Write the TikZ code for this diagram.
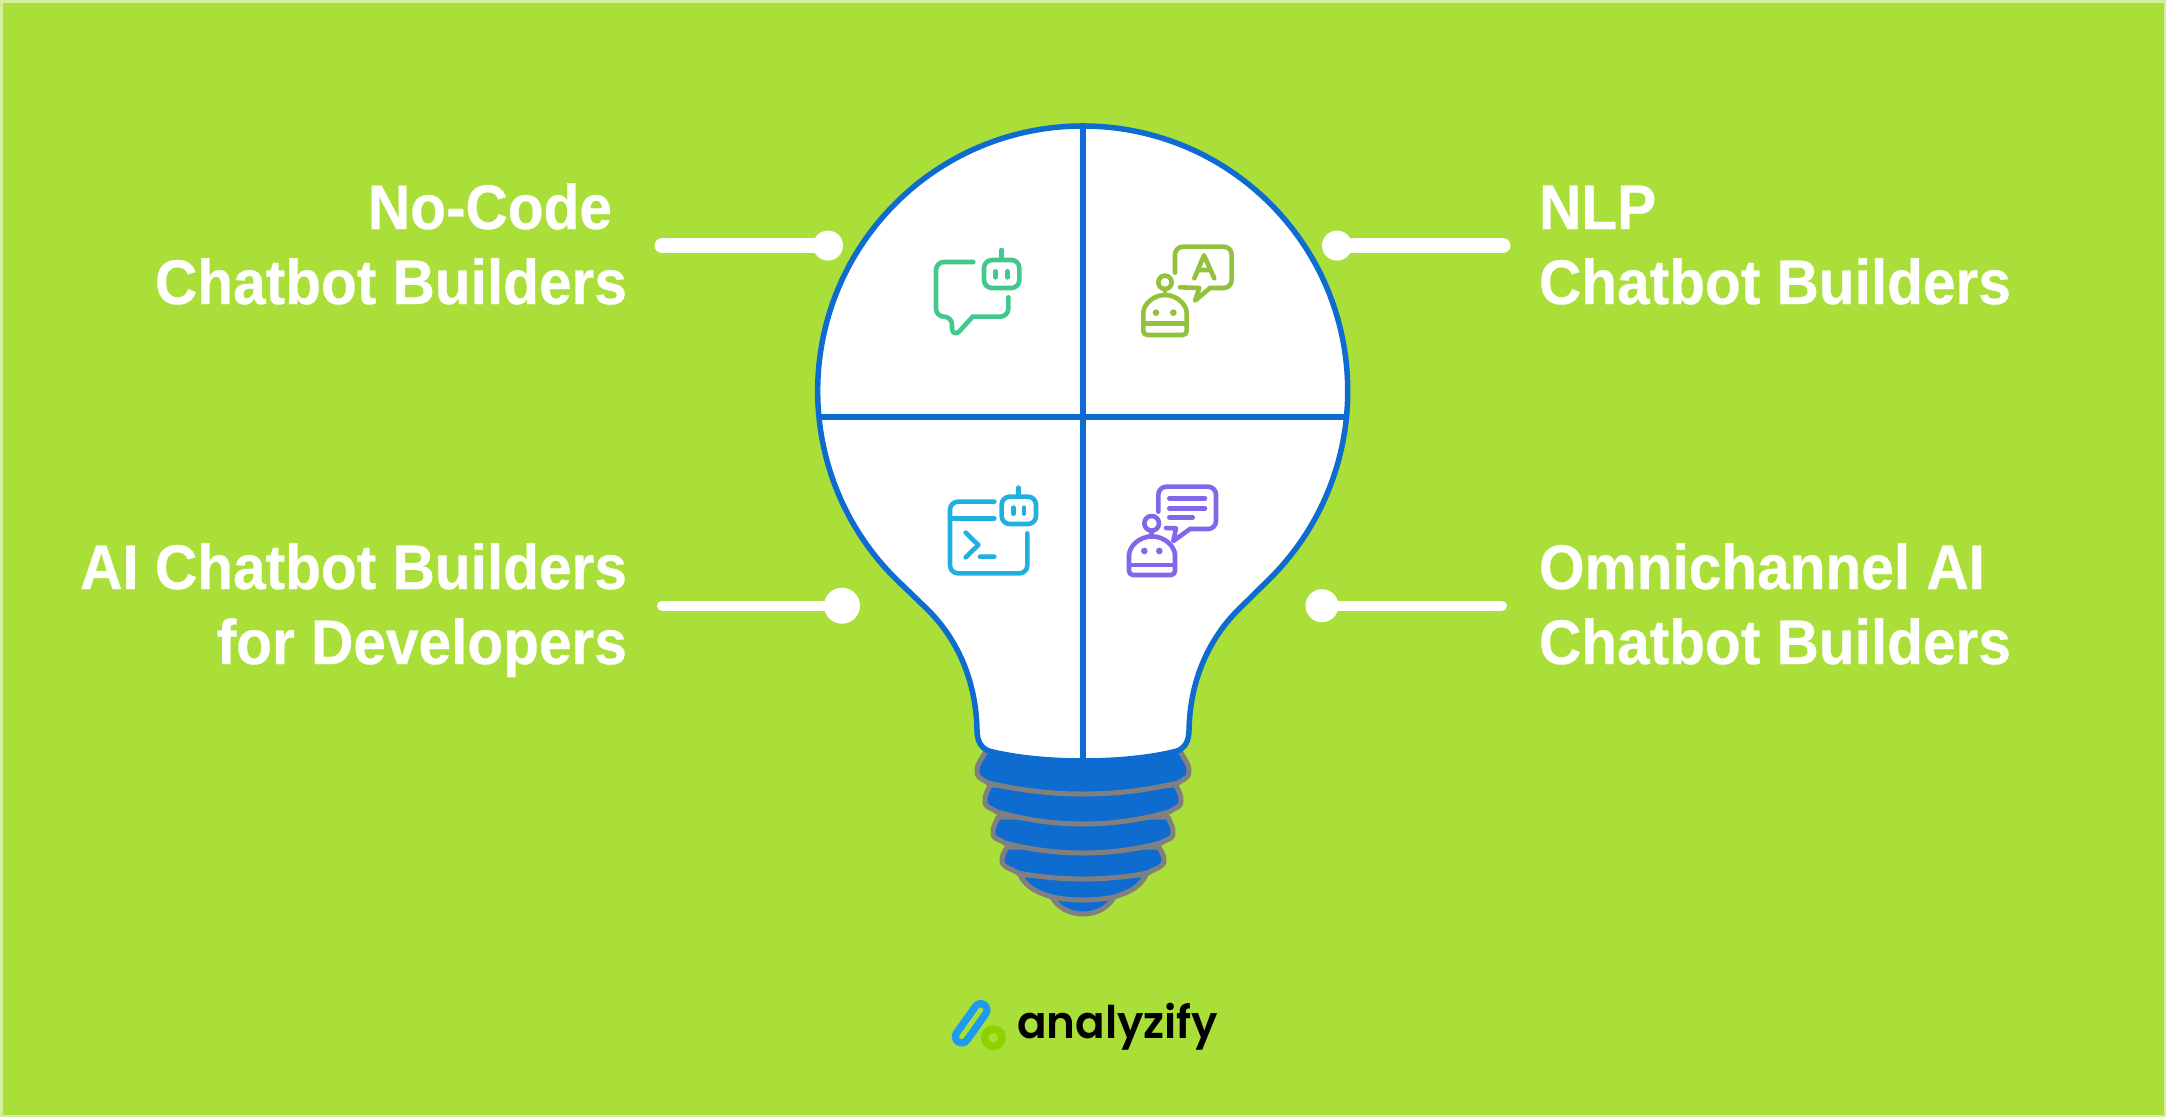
\documentclass[tikz,border=0pt]{standalone}
\usepackage{fontspec}
\setmainfont{Liberation Sans}
\newfontfamily\labfont[FakeStretch=0.93,BoldFeatures={FakeStretch=0.93,FakeBold=0.5}]{Liberation Sans}
\newfontfamily\logofont[FakeStretch=0.97]{Poppins SemiBold}
\definecolor{bg}{HTML}{A9DF38}
\definecolor{edge}{HTML}{D4EE9C}
\definecolor{bulbblue}{HTML}{0E6BD0}
\definecolor{basegray}{HTML}{808080}
\definecolor{icgreen}{HTML}{40C98A}
\definecolor{icolive}{HTML}{93C13B}
\definecolor{iccyan}{HTML}{20B0E0}
\definecolor{icpurple}{HTML}{8268E8}
\definecolor{logoblue}{HTML}{1E9BF0}
\definecolor{logogreen}{HTML}{8FD000}
\tikzset{
  labeltext/.style={text=white,inner sep=0pt,outer sep=0pt,font=\labfont\fontsize{63}{75}\selectfont\bfseries},
  dot/.style={circle,fill=white,draw=none,inner sep=0pt,outer sep=0pt,minimum size=#1},
  lead/.style={draw=white,line cap=round,line width=#1},
  tierstyle/.style={fill=bulbblue,draw=basegray,line width=5pt,line join=round},
  bulbline/.style={draw=bulbblue,line width=5.5pt},
  icon/.style={draw=#1,line width=4.6pt,line cap=round,line join=round,rounded corners=8pt},
  iconsharp/.style={draw=#1,line width=4.6pt,line cap=round,line join=round},
  eye/.style={fill=#1,draw=none}
}
\newcommand{\tierpath}[7]{%
  \draw[tierstyle] (1083-#1,#2) .. controls (1083-#1-0.5*#3+0.5*#1,#2+0.45*#4-0.45*#2) and (1083-#3,#4-6) .. (1083-#3,#4)
   .. controls (1083-#3,#4+8) and (1083-#5-9,#6-6) .. (1083-#5,#6)
   .. controls (1083-0.62*#5,#6+0.75*#7-0.75*#6) and (1083-0.3*#5,#7) .. (1083,#7)
   .. controls (1083+0.3*#5,#7) and (1083+0.62*#5,#6+0.75*#7-0.75*#6) .. (1083+#5,#6)
   .. controls (1083+#5+9,#6-6) and (1083+#3,#4+8) .. (1083+#3,#4)
   .. controls (1083+#3,#4-6) and (1083+#1+0.5*#3-0.5*#1,#2+0.45*#4-0.45*#2) .. (1083+#1,#2) -- cycle;}
\begin{document}
\begin{tikzpicture}[x=1pt,y=-1pt]
\useasboundingbox (0,0) rectangle (2166,1117);
\fill[edge] (0,0) rectangle (2166,1117);
\fill[bg] (2.5,2.5) rectangle (2163.5,1114.5);

% base
\draw[tierstyle] (1052,897) .. controls (1058,908) and (1070,914) .. (1083,914) .. controls (1096,914) and (1108,908) .. (1114,897) -- cycle;
\draw[tierstyle] (1020,875) .. controls (1027,889) and (1040,893) .. (1052,897) .. controls (1062,899) and (1072,900) .. (1083,900) .. controls (1094,900) and (1104,899) .. (1114,897) .. controls (1126,893) and (1139,889) .. (1146,875) -- cycle;
\tierpath{76}{847}{81}{860}{65}{873}{879}
\tierpath{85}{817}{90}{832}{78}{843}{853}
\tierpath{93}{785}{98}{800}{86}{812}{824}
\tierpath{97}{751}{106}{770}{95}{783}{794}

% bulb
\path[fill=white,bulbline,line join=round]
  (895.3,578.4) .. controls (791.8,474.9) and (791.8,307.1) .. (895.3,203.6)
  .. controls (998.8,100.1) and (1166.6,100.1) .. (1270.1,203.6)
  .. controls (1373.6,307.1) and (1373.6,474.9) .. (1270.1,578.4)
  -- (1240,608) .. controls (1209,638) and (1190,680) .. (1189,730)
  .. controls (1189,741) and (1185,748) .. (1177,751)
  .. controls (1150,758) and (1115,761) .. (1083,761)
  .. controls (1051,761) and (1016,758) .. (989,751)
  .. controls (981,748) and (977,741) .. (977,730)
  .. controls (976,680) and (957,638) .. (926,608)
  -- cycle;
\coordinate (vtop) at (1083,126);
\coordinate (vbot) at (1083,761);
\coordinate (hl) at (819,417);
\coordinate (hr) at (1347,417);
\draw[bulbline] (vtop) -- (vbot);
\draw[bulbline] (hl) -- (hr);

% icon 1
\begin{scope}[shift={(880,220)},x=0.33333pt,y=-0.33333pt]
  \draw[icon=icgreen] (280,126) -- (168,126) -- (168,290) -- (216,290) -- (216,322);
  \draw[iconsharp=icgreen] (216,322) .. controls (216,342) and (228,344) .. (238,334) -- (278,290);
  \draw[icon=icgreen] (278,290) -- (385,290) -- (385,232);
  \draw[icon=icgreen] (312,120) rectangle (418,204);
  \draw[iconsharp=icgreen] (365,90) -- (365,120);
  \draw[iconsharp=icgreen] (346,154) -- (346,172) (382,154) -- (382,172);
\end{scope}
% icon 2
\begin{scope}[shift={(880,220)},x=0.33333pt,y=-0.33333pt]
  \draw[icon=icolive] (885,158) -- (885,80) -- (1055,80) -- (1055,204) -- (990,204);
  \draw[iconsharp=icolive] (990,204) -- (945,242) -- (958,204) -- (900,202);
  \draw[iconsharp=icolive] (943,175) -- (972,106) -- (1003,175) (955,150) -- (992,150);
  \draw[iconsharp=icolive] (855,187) circle[radius=20];
  \draw[iconsharp=icolive] (855,207) -- (855,225);
  \draw[iconsharp=icolive,rounded corners=4pt] (790,345) -- (790,290) arc[start angle=180,end angle=0,x radius=65,y radius=-65] -- (920,345) -- cycle;
  \draw[iconsharp=icolive] (790,310) -- (920,310);
  \fill[eye=icolive] (828,278) circle[radius=10] (880,278) circle[radius=10];
\end{scope}
% icon 3
\begin{scope}[shift={(900,460)},x=0.33333pt,y=-0.33333pt]
  \draw[icon=iccyan] (283,125) -- (150,125) -- (150,340) -- (382,340) -- (382,220);
  \draw[iconsharp=iccyan] (150,175) -- (283,175);
  \draw[iconsharp=iccyan] (197,218) -- (235,255) -- (197,292) (240,290) -- (283,290);
  \draw[icon=iccyan] (305,110) rectangle (408,192);
  \draw[iconsharp=iccyan] (355,83) -- (355,110);
  \draw[iconsharp=iccyan] (340,143) -- (340,161) (372,143) -- (372,161);
\end{scope}
% icon 4
\begin{scope}[shift={(900,460)},x=0.33333pt,y=-0.33333pt]
  \draw[icon=icpurple] (775,155) -- (775,80) -- (948,80) -- (948,207) -- (870,207);
  \draw[iconsharp=icpurple] (870,207) -- (820,243) -- (828,205) -- (798,204);
  \draw[iconsharp=icpurple] (808,115) -- (915,115) (808,145) -- (915,145) (808,172) -- (878,172);
  \draw[iconsharp=icpurple] (755,190) circle[radius=22];
  \draw[iconsharp=icpurple] (755,212) -- (755,230);
  \draw[iconsharp=icpurple,rounded corners=4pt] (687,345) -- (687,298) arc[start angle=180,end angle=0,x radius=69,y radius=-69] -- (825,345) -- cycle;
  \draw[iconsharp=icpurple] (687,315) -- (825,315);
  \fill[eye=icpurple] (733,273) circle[radius=10] (778,273) circle[radius=10];
\end{scope}

% leaders
\node[dot=30pt] (d1) at (828,245.6) {};
\coordinate (e1) at (662,245.6);
\draw[lead=15pt] (e1) -- (d1);
\node[dot=30pt] (d2) at (1337,245.6) {};
\coordinate (e2) at (1503,245.6);
\draw[lead=15pt] (e2) -- (d2);
\node[dot=36pt] (d3) at (842,605.7) {};
\coordinate (e3) at (662,605.7);
\draw[lead=10pt] (e3) -- (d3);
\node[dot=33pt] (d4) at (1322,605.7) {};
\coordinate (e4) at (1502,605.7);
\draw[lead=10pt] (e4) -- (d4);

% labels
\node[labeltext,anchor=north east,align=right] (l1) at (627,179) {\rule{0pt}{50pt}No-Code\hspace*{15pt}\\Chatbot Builders};
\node[labeltext,anchor=north east,align=right] (l3) at (627,539) {\rule{0pt}{50pt}AI Chatbot Builders\\for Developers};
\node[labeltext,anchor=north west,align=left] (l2) at (1539,179) {\rule{0pt}{50pt}NLP\\Chatbot Builders};
\node[labeltext,anchor=north west,align=left] (l4) at (1539,539) {\rule{0pt}{50pt}Omnichannel AI\\Chatbot Builders};

% logo
\begin{scope}[shift={(930,980)},x=0.33333pt,y=-0.33333pt]
  \coordinate (clipa) at (152,90);
  \coordinate (clipb) at (95,170);
  \draw[logoblue,line width=20pt,line cap=round] (clipa) -- (clipb);
  \draw[bg,line width=5pt,line cap=round] (clipa) -- (clipb);
  \draw[logogreen,line width=7.5pt] (190,173) circle[radius=26];
\end{scope}
\node[inner sep=0pt,outer sep=0pt,anchor=base west,font=\logofont\fontsize{45}{45}\selectfont,text=black] (logo) at (1017,1038) {analyzify};
\end{tikzpicture}
\end{document}
